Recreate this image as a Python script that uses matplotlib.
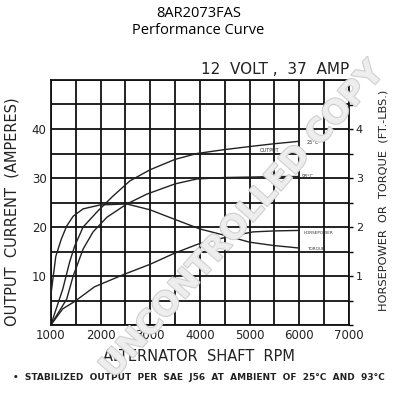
import matplotlib
matplotlib.use('Agg')
import matplotlib.pyplot as plt
import matplotlib.patheffects as pe
import numpy as np

# Output current, 25°C ambient (amps)
rpm_out25 = [1000, 1240, 1380, 1480, 1650, 1950, 2250, 2590, 3000, 3500, 3940, 4500, 5070, 5500, 5810, 6000]
amp_out25 = [0, 7.3, 12.9, 16.1, 20.0, 23.3, 26.3, 29.4, 31.7, 33.8, 35.0, 35.8, 36.5, 37.0, 37.3, 37.5]

# Output current, 93°C ambient (amps)
rpm_out93 = [1000, 1320, 1450, 1650, 1850, 2130, 2530, 2930, 3500, 3940, 4500, 5070, 5500, 6000]
amp_out93 = [0, 5.3, 10.0, 15.5, 19.0, 22.0, 24.7, 26.7, 28.8, 29.8, 30.1, 30.2, 30.3, 30.3]

# Torque (ft-lbs) and horsepower, right axis
rpm_torque = [1000, 1100, 1210, 1320, 1450, 1650, 1990, 2530, 3000, 3330, 4000, 4540, 5000, 5500, 5810, 6000]
torque = [0.6, 1.4, 1.75, 2.02, 2.22, 2.37, 2.45, 2.47, 2.35, 2.22, 1.96, 1.82, 1.69, 1.62, 1.59, 1.57]

rpm_hp = [1000, 1240, 1480, 1880, 2490, 3000, 3500, 3960, 4560, 5070, 5500, 6000]
hp = [0, 0.33, 0.48, 0.78, 1.04, 1.24, 1.47, 1.65, 1.80, 1.90, 1.92, 1.93]

x_ticks = [1000, 2000, 3000, 4000, 5000, 6000, 7000]
y_ticks = [10, 20, 30, 40]
hp_ticks = [1, 2, 3, 4]

fig = plt.figure(figsize=(3.97, 4.0), dpi=100)
ax = fig.add_axes([0.128, 0.1875, 0.751, 0.6125])

ax.set_xlim(1000, 7000)
ax.set_ylim(0, 50)
ax.set_xticks(np.arange(1000, 7001, 500))
ax.set_yticks(np.arange(0, 51, 5))
ax.grid(True, color='#111111', linewidth=1.3)
ax.set_axisbelow(True)
for s in ax.spines.values():
    s.set_linewidth(1.3)
    s.set_color('#111111')

ax.set_xticklabels([str(v) if v in x_ticks else '' for v in range(1000, 7001, 500)],
                   fontsize=8.5, color='#222222')
ax.set_yticklabels([str(v) if v in y_ticks else '' for v in range(0, 51, 5)],
                   fontsize=8.5, color='#222222')
ax.tick_params(axis='both', length=0, pad=3)

ax.plot(rpm_out25, amp_out25, color='#222222', lw=1.0)
ax.plot(rpm_out93, amp_out93, color='#222222', lw=1.0)

ax2 = ax.twinx()
ax2.set_ylim(0, 5)
ax2.set_yticks(np.arange(0, 5.01, 0.5))
ax2.set_yticklabels([str(int(v)) if v in hp_ticks else '' for v in np.arange(0, 5.01, 0.5)],
                    fontsize=8, color='#222222')
ax2.tick_params(axis='y', length=3, width=1.0, pad=2, direction='out')
for s in ax2.spines.values():
    s.set_visible(False)
ax2.plot(rpm_torque, torque, color='#222222', lw=1.0)
ax2.plot(rpm_hp, hp, color='#222222', lw=1.0)

# small curve labels
ax.text(5400, 35.7, 'OUTPUT', fontsize=3.5, ha='center', va='center', color='#333333')
ax.text(6270, 37.2, '25°C', fontsize=3.5, ha='center', va='center', color='#333333')
ax.text(6170, 30.3, '93°C', fontsize=3.5, ha='center', va='center', color='#333333')
ax2.text(6380, 1.87, 'HORSEPOWER', fontsize=3, ha='center', va='center', color='#333333')
ax2.text(6340, 1.57, 'TORQUE', fontsize=3, ha='center', va='center', color='#333333')

# titles and labels
fig.text(0.5, 0.967, '8AR2073FAS', ha='center', va='center', fontsize=10.5, family='Open Sans')
fig.text(0.5, 0.925, 'Performance Curve', ha='center', va='center', fontsize=10.5, family='Open Sans')
fig.text(0.88, 0.825, '12  VOLT ,  37  AMP', ha='right', va='center', fontsize=11, color='#222222')
fig.text(0.03, 0.47, 'OUTPUT  CURRENT  (AMPERES)', rotation=90, ha='center', va='center',
         fontsize=10.5, color='#222222')
fig.text(0.965, 0.5, 'HORSEPOWER  OR  TORQUE  (FT.-LBS.)', rotation=90, ha='center', va='center',
         fontsize=8.2, color='#222222')
fig.text(0.5, 0.108, 'ALTERNATOR  SHAFT  RPM', ha='center', va='center', fontsize=10.5, color='#222222')
fig.text(0.5, 0.055, '•  STABILIZED  OUTPUT  PER  SAE  J56  AT  AMBIENT  OF  25°C  AND  93°C',
         ha='center', va='center', fontsize=6.5, color='#222222', fontweight='bold')

# watermark
fig.text(0.61, 0.45, 'UNCONTROLLED COPY', rotation=48.5, ha='center', va='center',
         fontsize=23.5, fontweight='bold', color='#eeeeee', alpha=0.95, zorder=10,
         path_effects=[pe.withStroke(linewidth=1.5, foreground='#cccccc')])

fig.savefig('out.png', dpi=100)
